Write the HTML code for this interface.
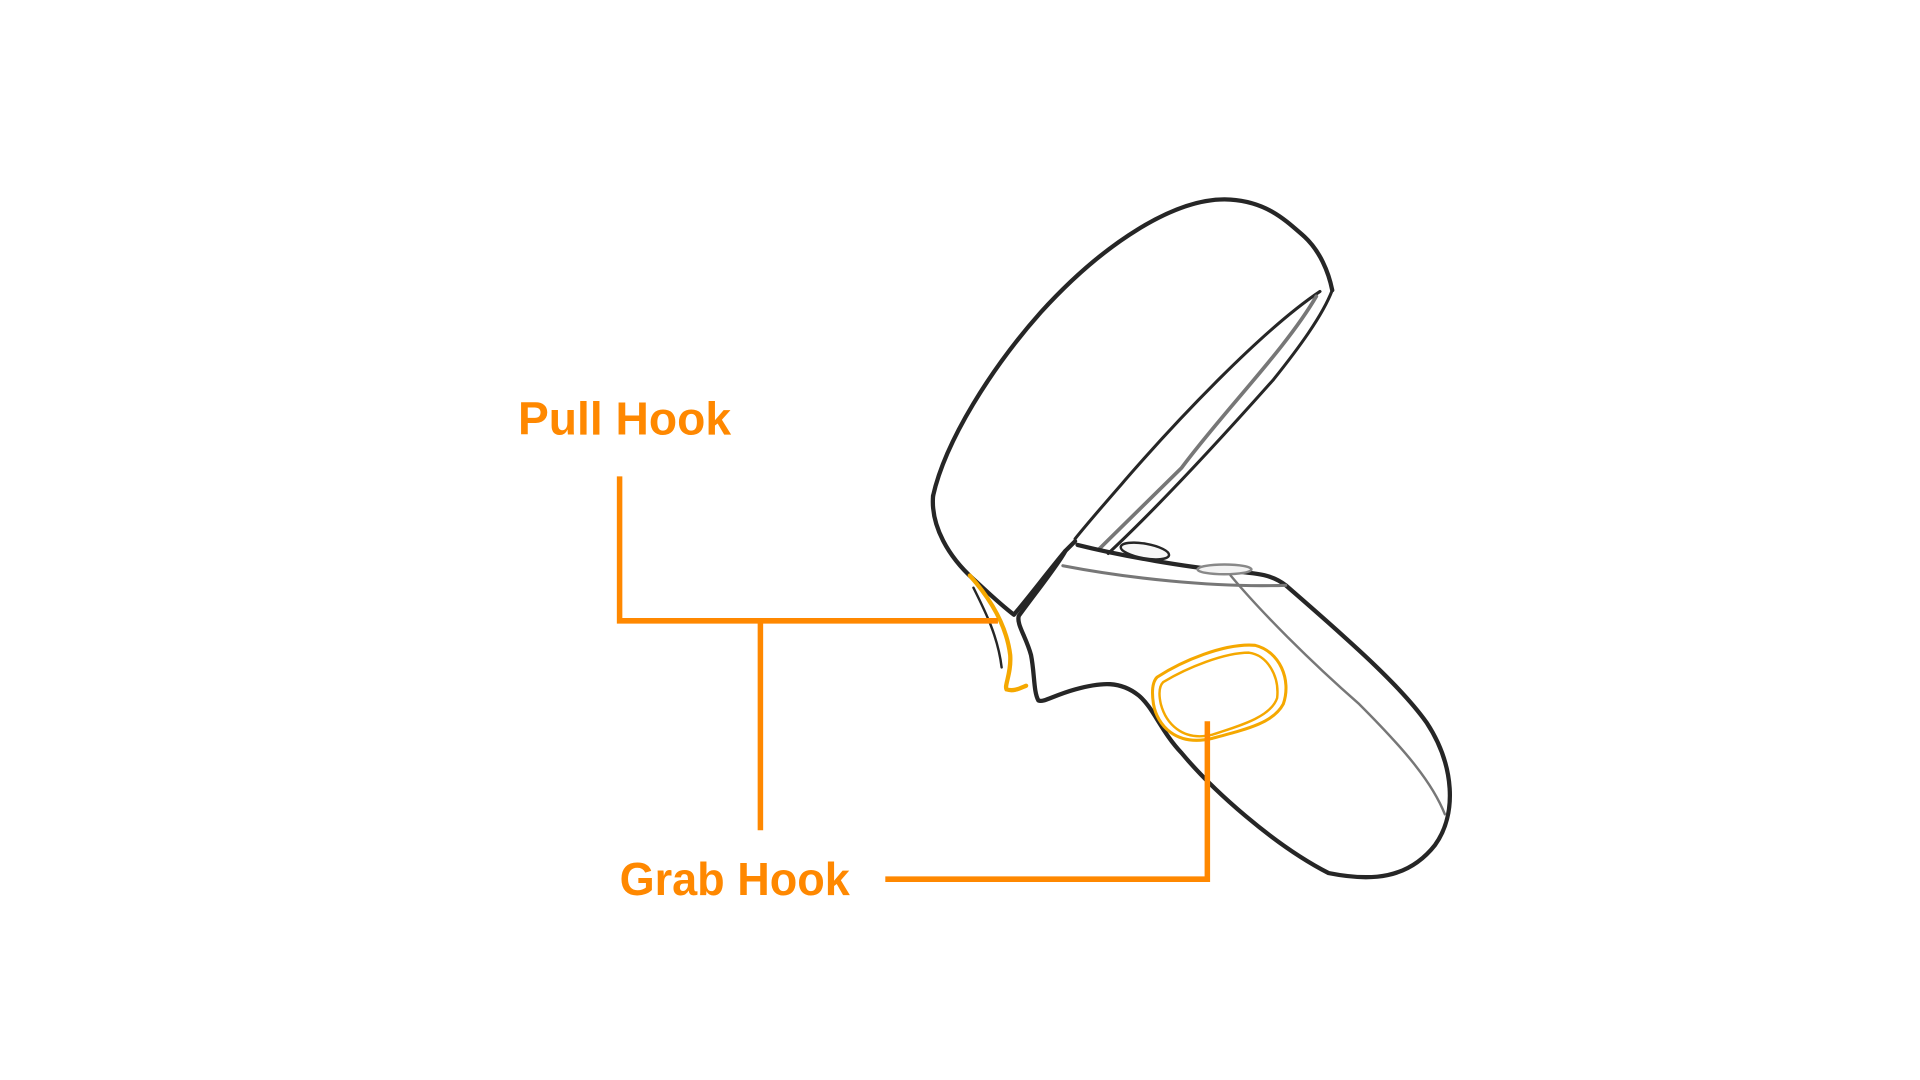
<!DOCTYPE html>
<html><head><meta charset="utf-8"><style>
html,body{margin:0;padding:0;background:#fff;width:1920px;height:1080px;overflow:hidden}
svg{display:block}
text{font-family:"Liberation Sans Narrow","Liberation Sans",sans-serif;font-weight:bold;fill:#ff8800}
</style></head><body>
<svg width="1920" height="1080" viewBox="0 0 1568 882" preserveAspectRatio="none">
<g fill="none" stroke="#262626" stroke-linecap="round" stroke-linejoin="round">
  <path d="M762,405 C772,360 810,300 850,255 C900,200 960,160 1005,163 C1035,165 1050,180 1065,193 C1078,205 1085,222 1088,237" stroke-width="3.5"/>
  <path d="M1088,237 C1080,258 1060,285 1040,310 C1000,355 950,410 905,452" stroke-width="2.5"/>
  <path d="M1078,238 C1030,270 960,345 925,385 C905,408 890,425 878,440" stroke-width="2.5"/>
  <path d="M1075,242 C1050,285 1000,335 965,382 L898,448" stroke="#777" stroke-width="3"/>
  <path d="M762,405 C760,430 775,455 795,473 C805,482 815,492 828,502 C840,488 855,468 870,450 L878,442" stroke-width="3.5"/>
  <path d="M870,450 C865,460 845,485 832,503 C830,510 838,520 842,535 C845,550 844,565 848,572 C852,574 860,568 878,563 C900,557 915,556 930,568 C942,578 948,597 965,615 C990,645 1040,690 1085,713 C1120,720 1150,718 1172,690 C1190,665 1188,625 1165,590 C1145,562 1110,530 1050,478 C1040,470 1030,468 1000,466 C970,463 920,455 880,445" stroke-width="3.5"/>
  <path d="M868,462 C920,472 990,480 1050,478" stroke="#777" stroke-width="2.5"/>
  <ellipse cx="935" cy="450" rx="20" ry="6" transform="rotate(10 935 450)" stroke-width="2" fill="#f7f7f7"/>
  <ellipse cx="1000" cy="465" rx="22" ry="4" stroke="#888" stroke-width="2" fill="#f3f3f3"/>
  <path d="M1005,470 C1030,500 1070,540 1110,575 C1150,615 1170,640 1180,665" stroke="#777" stroke-width="2"/>
  <path d="M795,480 C805,500 815,520 818,545" stroke-width="2"/>
</g>
<g fill="none" stroke="#f5a800" stroke-linecap="round">
  <path d="M792,470 C808,488 822,510 825,535 C826,550 820,560 822,563 C828,565 833,562 838,560" stroke-width="3.5"/>
  <path d="M945,553 C965,540 1000,525 1025,527 C1045,532 1055,555 1048,575 C1040,590 1020,595 990,603 C960,610 945,592 942,575 C940,562 942,556 945,553 Z" stroke-width="2.5"/>
  <path d="M950,557 C970,545 1000,533 1020,533 C1035,535 1045,552 1043,570 C1038,585 1015,592 990,600 C965,606 952,590 948,575 C946,566 947,560 950,557 Z" stroke-width="2"/>
</g>
<g stroke="#ff8800" stroke-width="4.5" fill="none" stroke-linecap="butt">
  <path d="M506,389 L506,507 L815,507"/>
  <path d="M621,508 L621,678"/>
  <path d="M723,718 L986,718 L986,589"/>
</g>
<text x="423" y="355" font-size="38" textLength="174" lengthAdjust="spacingAndGlyphs">Pull Hook</text>
<text x="506" y="731" font-size="38" textLength="188" lengthAdjust="spacingAndGlyphs">Grab Hook</text>
</svg>
</body></html>
